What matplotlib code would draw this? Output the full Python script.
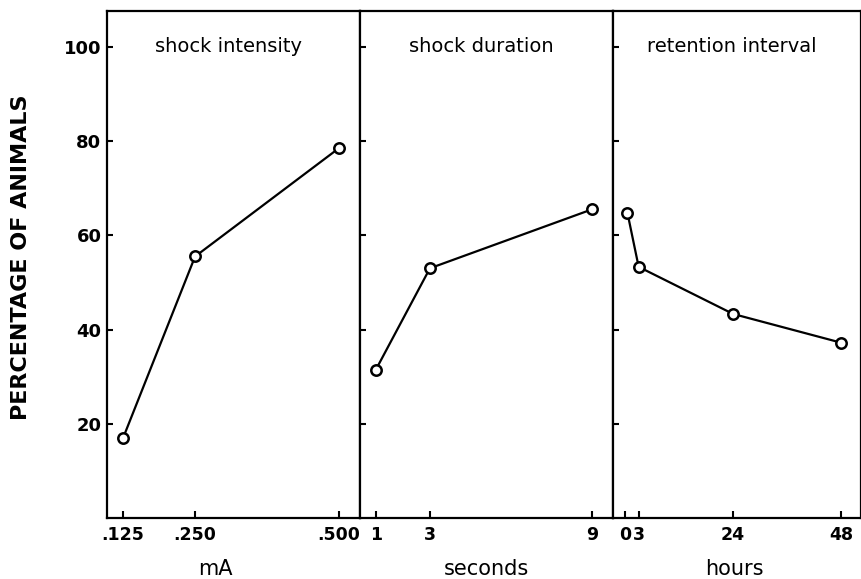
"""
Three-panel line chart: percentage of animals vs shock intensity,
shock duration and retention interval.
"""

import matplotlib

matplotlib.use("Agg")
import matplotlib.pyplot as plt  # noqa: E402

# panel 1: shock intensity (mA)
intensity_ma = [0.125, 0.250, 0.500]
intensity_pct = [17, 55.5, 78.5]
intensity_ticks = [0.125, 0.250, 0.500]
intensity_ticklabels = [".125", ".250", ".500"]

# panel 2: shock duration (seconds)
duration_s = [1, 3, 9]
duration_pct = [31.5, 53, 65.5]
duration_ticks = [1, 3, 9]
duration_ticklabels = ["1", "3", "9"]

# panel 3: retention interval (hours)
retention_h = [0.5, 3, 24, 48]
retention_pct = [64.8, 53.3, 43.3, 37.2]
retention_ticks = [0, 3, 24, 48]
retention_ticklabels = ["0", "3", "24", "48"]

y_ticks = [20, 40, 60, 80, 100]
titles = ["shock intensity", "shock duration", "retention interval"]
xlabels = ["mA", "seconds", "hours"]

W, H = 862, 579
fig = plt.figure(figsize=(W / 100, H / 100), dpi=100)

# panel edges in pixels
edges = [107, 360, 613, 861]
top_px, bottom_px = 11, 518
xlims = [(0.097, 0.5365), (0.41, 9.78), (-2.7, 52.4)]
xlabel_pos = [0.43, 0.5, 0.49]

panels = [
    (intensity_ma, intensity_pct, intensity_ticks, intensity_ticklabels),
    (duration_s, duration_pct, duration_ticks, duration_ticklabels),
    (retention_h, retention_pct, retention_ticks, retention_ticklabels),
]

for i, (xs, ys, xt, xtl) in enumerate(panels):
    left = edges[i] / W
    width = (edges[i + 1] - edges[i]) / W
    bottom = 1 - bottom_px / H
    height = (bottom_px - top_px) / H
    ax = fig.add_axes([left, bottom, width, height])

    ax.plot(xs, ys, color="black", lw=1.6, marker="o", ms=7.5,
            mfc="white", mec="black", mew=1.8, zorder=3)

    ax.set_xlim(*xlims[i])
    ax.set_ylim(0, 107.6)
    ax.set_xticks(xt)
    ax.set_xticklabels(xtl)
    ax.set_yticks(y_ticks)
    if i == 0:
        ax.set_yticklabels([str(t) for t in y_ticks])
    else:
        ax.set_yticklabels([])

    for s in ax.spines.values():
        s.set_linewidth(1.6)

    ax.tick_params(axis="x", direction="in", length=5, width=1.5,
                   pad=6, labelsize=12.5)
    ax.tick_params(axis="y", direction="in", length=4, width=1.5,
                   pad=4, labelsize=13)
    for lab in ax.get_xticklabels() + ax.get_yticklabels():
        lab.set_fontweight("bold")

    ax.text(0.48, 100, titles[i], transform=ax.get_yaxis_transform(),
            ha="center", va="center", fontsize=14)

    ax.set_xlabel(xlabels[i], fontsize=15)
    ax.xaxis.set_label_coords(xlabel_pos[i], -0.08)

    if i == 0:
        ax.set_ylabel("PERCENTAGE OF ANIMALS", fontsize=16,
                      fontweight="bold")
        ax.yaxis.set_label_coords(-0.30, 0.515)

fig.savefig("out.png", dpi=100)
plt.close(fig)
